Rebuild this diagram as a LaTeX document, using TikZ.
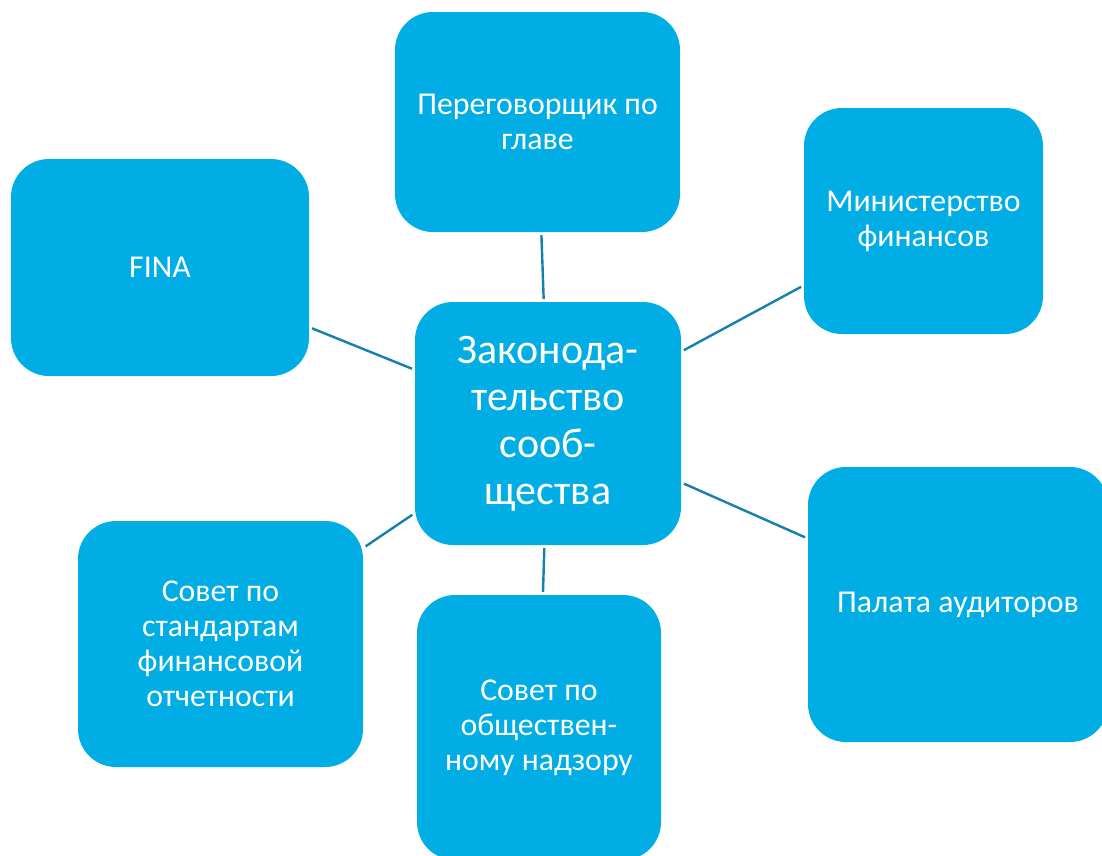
\documentclass[tikz,border=0pt]{standalone}
\usepackage{fontspec}
\setmainfont{Carlito}
\definecolor{boxfill}{RGB}{0,174,229}
\definecolor{linkcol}{RGB}{21,128,173}
\begin{document}
\begin{tikzpicture}[x=1pt,y=-1pt,
  box/.style={rectangle, rounded corners=38pt, fill=boxfill, text=white, align=center, inner sep=0pt, font=\fontsize{31.8}{35}\selectfont},
  link/.style={draw=linkcol, line width=2.4pt, shorten <=3pt, shorten >=3pt}]
\useasboundingbox (0,0) rectangle (1102,855);
\begin{scope}
\clip (0,0) rectangle (1102,855);
\node[box, minimum width=266pt, minimum height=243pt, font=\fontsize{42}{47}\selectfont] (c) at (548,423.5) {Законода-\\тельство\\сооб-\\щества};
\node[box, minimum width=285pt, minimum height=220pt] (t) at (537.5,122) {Переговорщик по\\главе};
\node[box, minimum width=239pt, minimum height=226pt] (m) at (923.5,221) {Министерство\\финансов};
\node[box, minimum width=298pt, minimum height=217pt] (f) at (160,267.5) {FINA};
\node[box, minimum width=300pt, minimum height=275pt] (p) at (958,604.5) {Палата аудиторов};
\node[box, minimum width=285pt, minimum height=246pt] (s) at (220.5,644) {Совет по\\стандартам\\финансовой\\отчетности};
\node[box, minimum width=244pt, minimum height=265pt] (o) at (539,727.5) {Совет по\\обществен-\\ному надзору};
\end{scope}
\draw[link] (c) -- (t);
\draw[link] (c) -- (m);
\draw[link] (c) -- (f);
\draw[link] (c) -- (p);
\draw[link] (c) -- (s);
\draw[link] (c) -- (o);
\end{tikzpicture}
\end{document}
